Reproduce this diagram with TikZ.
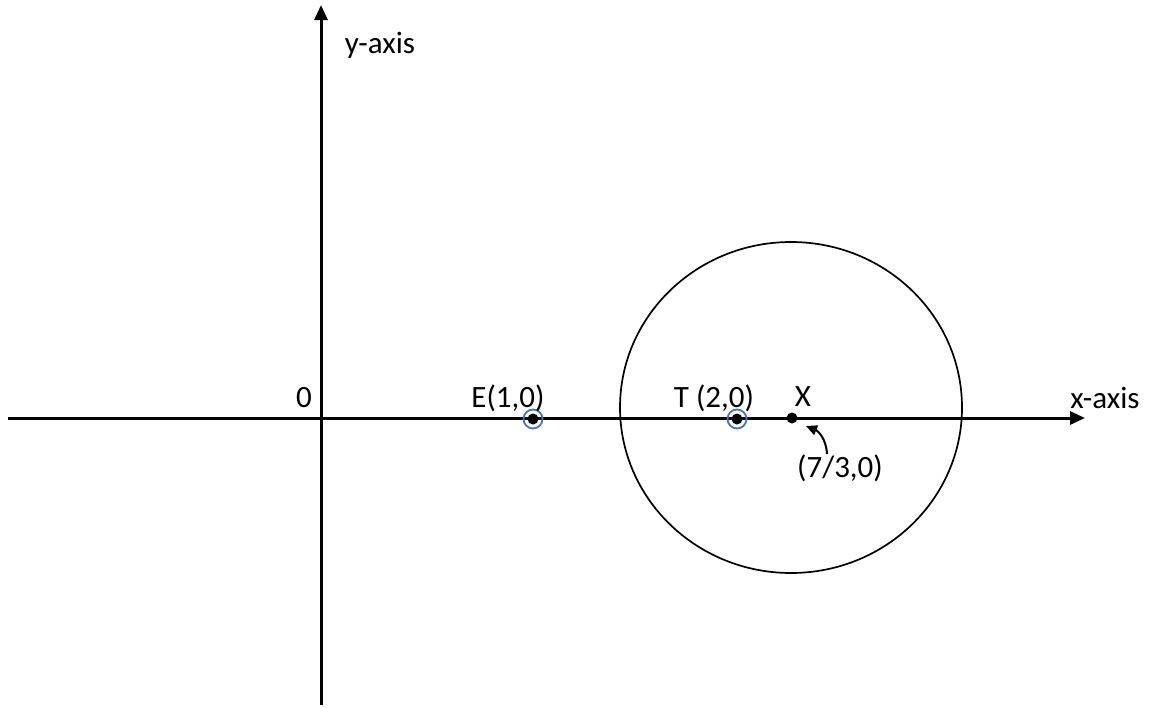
\documentclass[tikz,border=0pt]{standalone}
\usepackage{fontspec}
\setmainfont{Carlito}
\usetikzlibrary{arrows.meta}
\definecolor{ringblue}{RGB}{68,114,196}
\begin{document}
\begin{tikzpicture}[x=1pt,y=-1pt,
  axis/.style={line width=3pt,-{Triangle[length=15pt,width=13pt]}},
  lbl/.style={font=\fontsize{31}{33}\selectfont,inner sep=0pt},
  dot/.style={circle,fill=black,inner sep=0pt,minimum size=11pt},
  ring/.style={circle,draw=ringblue,line width=1.8pt,inner sep=0pt,minimum size=19pt}]
\useasboundingbox (0,0) rectangle (1153,707);
\coordinate (xs) at (8,418);
\coordinate (xe) at (1085,418);
\coordinate (ys) at (321,705);
\coordinate (ye) at (321,5);
\draw[axis] (xs) -- (xe);
\draw[axis] (ys) -- (ye);
\draw[line width=1.7pt] (791,407.5) ellipse [x radius=171, y radius=165.5];
\node[ring] (Er) at (533,419) {};
\node[ring] (Tr) at (737,419) {};
\node[dot] (E) at (533,419) {};
\node[dot] (T) at (737,419) {};
\node[dot] (X) at (792,418) {};
\node[lbl] (o) at (304,398) {0};
\node[lbl] (El) at (508,398) {E(1,0)};
\node[lbl] (Tl) at (714,398) {T (2,0)};
\node[lbl] (Xl) at (803,397) {X};
\node[lbl] (xl) at (1105,398) {x-axis};
\node[lbl] (yl) at (380,45) {y-axis};
\node[lbl] (pl) at (840,468) {(7/3,0)};
\coordinate (tip) at (806,426);
\draw[line width=2pt,-{Triangle[length=11pt,width=10pt]}] (827,454) .. controls (826,438) and (818,431) .. (tip);
\end{tikzpicture}
\end{document}
